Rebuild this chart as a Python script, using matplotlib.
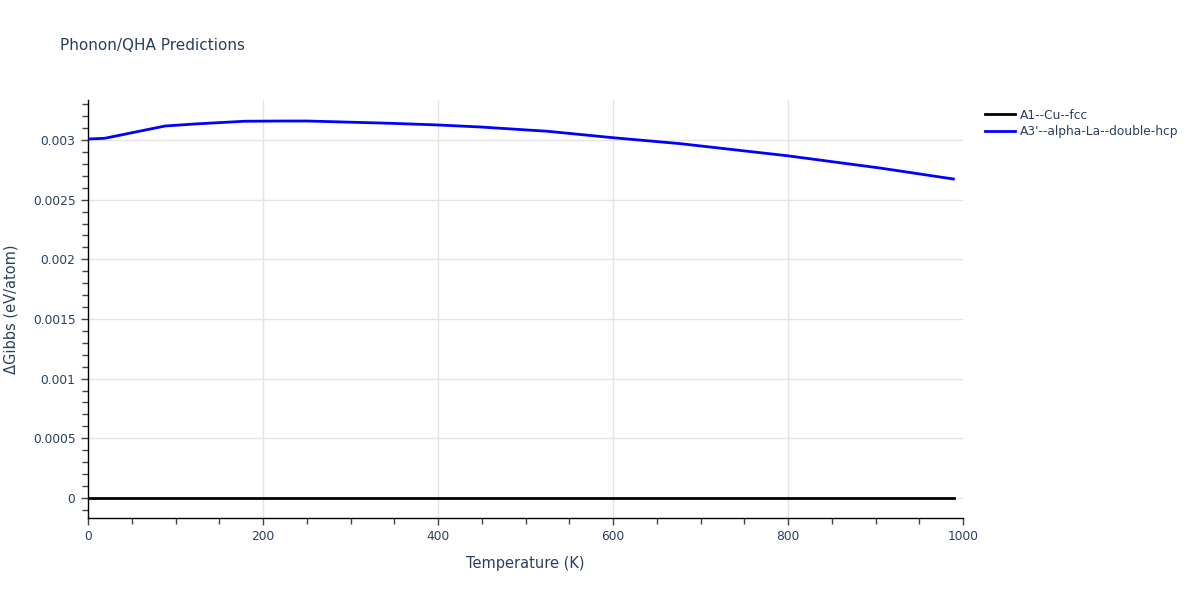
import matplotlib.pyplot as plt
from matplotlib.ticker import MultipleLocator, FixedLocator

# data
temps_cu = [0, 990]
gibbs_cu = [0.0, 0.0]

temps_la = [0, 19, 88, 122, 179, 225, 250, 345, 399, 448, 525, 600, 677, 799, 905, 989]
gibbs_la = [0.003008, 0.003014, 0.003117, 0.003134, 0.003157, 0.003159, 0.003159,
            0.003140, 0.003126, 0.003109, 0.003073, 0.003019, 0.002969, 0.002868,
            0.002765, 0.002673]

names = ["A1--Cu--fcc", "A3'--alpha-La--double-hcp"]
y_ticks = [0, 0.0005, 0.001, 0.0015, 0.002, 0.0025, 0.003]
y_labels = ["0", "0.0005", "0.001", "0.0015", "0.002", "0.0025", "0.003"]

txt = "#2a3f5f"
fig = plt.figure(figsize=(12, 6), dpi=100)
ax = fig.add_axes([88 / 1200, 1 - 518 / 600, 875 / 1200, 418 / 600])

ax.plot(temps_cu, gibbs_cu, color="black", lw=2, label=names[0], zorder=3)
ax.plot(temps_la, gibbs_la, color="blue", lw=2, label=names[1], zorder=3)

ax.set_xlim(0, 1000)
ax.set_ylim(-0.000168, 0.003335)
ax.xaxis.set_major_locator(MultipleLocator(200))
ax.xaxis.set_minor_locator(MultipleLocator(50))
ax.yaxis.set_major_locator(FixedLocator(y_ticks))
ax.set_yticklabels(y_labels)
ax.yaxis.set_minor_locator(MultipleLocator(0.0001))

# vertical grid only up to 800, the edge at 1000 has none
for xv in [200, 400, 600, 800]:
    ax.axvline(xv, color="#e5e5e5", lw=1, zorder=0)
ax.grid(True, axis="y", which="major", color="#e5e5e5", lw=1, zorder=0)
for s in ["top", "right"]:
    ax.spines[s].set_visible(False)
for s in ["left", "bottom"]:
    ax.spines[s].set_color("black")
    ax.spines[s].set_linewidth(1)

ax.tick_params(which="both", direction="out", colors="#444444", labelcolor=txt,
               labelsize=8.8, width=1)
ax.tick_params(which="major", length=5, pad=4)
ax.tick_params(which="minor", length=4)

ax.set_xlabel("Temperature (K)", color=txt, fontsize=10.5, labelpad=9)
ax.set_ylabel("ΔGibbs (eV/atom)", color=txt, fontsize=10.5, labelpad=10)
fig.text(60 / 1200, 1 - 45 / 600, "Phonon/QHA Predictions", color=txt, fontsize=11,
         va="center", ha="left")

leg = ax.legend(loc="upper left", bbox_to_anchor=(1.015, 1.0), frameon=False,
                fontsize=8.8, handlelength=2.5, handletextpad=0.4,
                labelspacing=0.3, borderaxespad=0.3)
for t in leg.get_texts():
    t.set_color(txt)

fig.savefig("out.png", dpi=100)
